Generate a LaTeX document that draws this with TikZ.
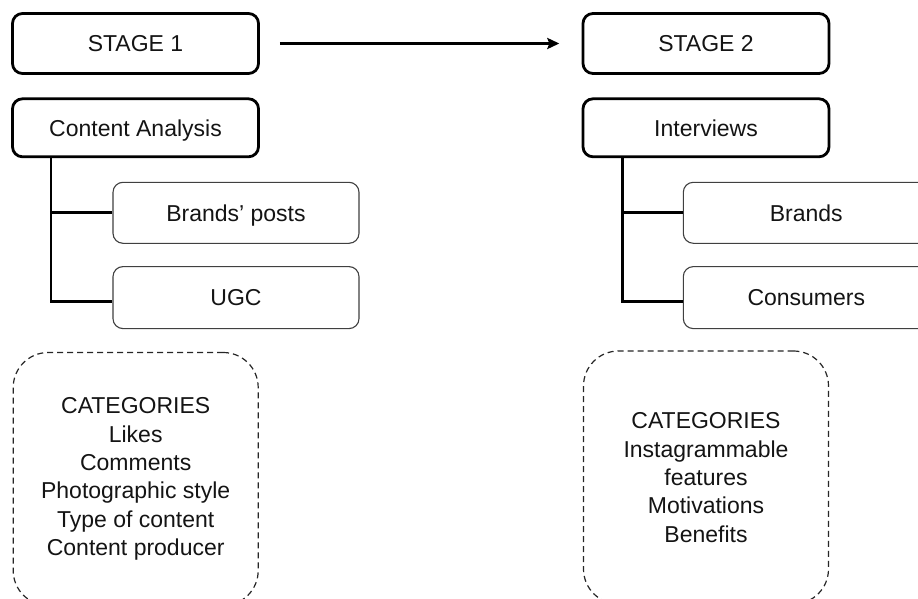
\documentclass[tikz,border=0pt]{standalone}
\usepackage{fontspec}
\setmainfont{Liberation Sans}
\usetikzlibrary{arrows.meta}
\definecolor{txt}{HTML}{141414}
\begin{document}
\begin{tikzpicture}[x=1pt,y=-1pt,
  font=\fontsize{23}{28.3}\selectfont, text=txt,
  stagebox/.style={draw=black, line width=2.8pt, rounded corners=10pt,
    minimum width=246pt, minimum height=60pt, inner sep=0pt,
    text height=16.5pt, text depth=0pt},
  subbox/.style={draw=black!75, line width=1.1pt, rounded corners=10pt,
    minimum width=246pt, minimum height=61pt, inner sep=0pt,
    text height=16.5pt, text depth=0pt},
  catbox/.style={draw=black!85, line width=1.2pt, dash pattern=on 6pt off 4pt,
    rounded corners=35pt, minimum width=245pt, minimum height=253pt,
    align=center, inner sep=0pt},
  treeline/.style={draw=black, line width=2.8pt},
  arrowline/.style={draw=black, line width=2.5pt,
    -{Stealth[length=12pt, width=11pt, inset=2pt]}}
]
\useasboundingbox (0,0) rectangle (918,599);
\fill[white] (0,0) rectangle (918,599);
\clip (0,0) rectangle (918,599);

% Stage 1
\node[stagebox] (s1) at (135.5,43.5) {STAGE 1};
\node[stagebox, minimum height=58pt] (ca) at (135.5,127.8) {Content Analysis};
\node[subbox] (bp) at (236,212.8) {Brands’ posts};
\node[subbox, minimum height=62pt] (ugc) at (236,297.6) {UGC};

% Stage 2
\node[stagebox] (s2) at (706,43.5) {STAGE 2};
\node[stagebox, minimum height=58pt] (iv) at (706,127.8) {Interviews};
\node[subbox] (br) at (806.3,212.8) {Brands};
\node[subbox, minimum height=62pt] (co) at (806.3,297.6) {Consumers};

% tree connectors
\coordinate (ta) at (51,301.7);
\draw[treeline] (ca.south -| ta) -- (ta) -- (ta -| ugc.west);
\draw[treeline] (bp.west -| ta) -- (bp.west);
\coordinate (tb) at (622.3,301.7);
\draw[treeline] (iv.south -| tb) -- (tb) -- (tb -| co.west);
\draw[treeline] (br.west -| tb) -- (br.west);

% arrow between stages
\draw[arrowline] ([xshift=20pt]s1.east) -- ([xshift=-22.3pt]s2.west);

% categories
\node[catbox] (c1) at (135.7,479) {CATEGORIES\\Likes\\Comments\\Photographic style\\Type of content\\Content producer};
\node[catbox] (c2) at (706,477.5) {CATEGORIES\\Instagrammable\\features\\Motivations\\Benefits};
\end{tikzpicture}
\end{document}
